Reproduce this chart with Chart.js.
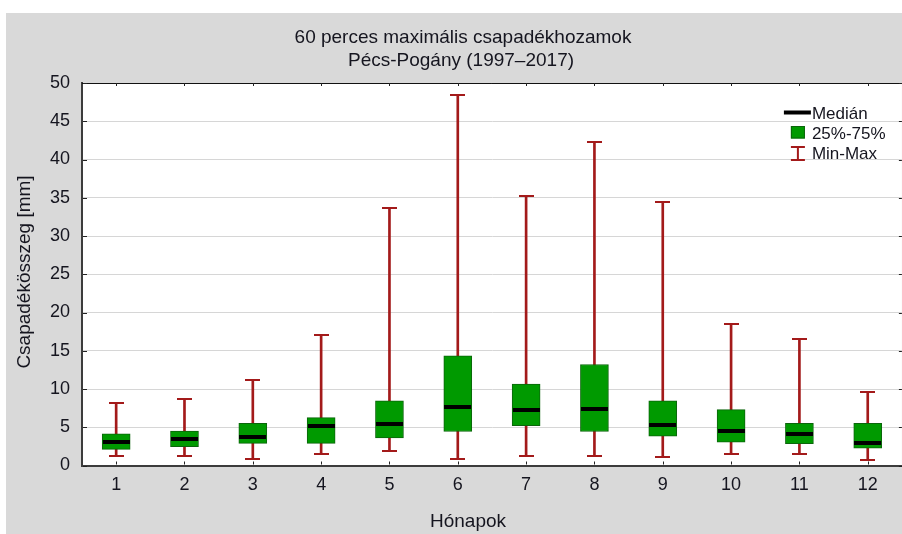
<!DOCTYPE html>
<html lang="hu">
<head>
<meta charset="utf-8">
<title>60 perces maximális csapadékhozamok – Pécs-Pogány</title>
<script src="https://cdn.jsdelivr.net/npm/chart.js@4.4.1/dist/chart.umd.min.js"></script>
<style>
  html, body { margin: 0; padding: 0; overflow: hidden; background: #ffffff; }
  canvas { display: block; }
</style>
</head>
<body>
<canvas id="chart" width="902" height="534"></canvas>
<script>
// Monthly 60-minute maximum precipitation, Pécs-Pogány 1997–2017 (mm)
const months   = ['1', '2', '3', '4', '5', '6', '7', '8', '9', '10', '11', '12'];
const minVals  = [1.3, 1.3, 0.9, 1.5, 1.9, 0.9, 1.3, 1.3, 1.1, 1.5, 1.5, 0.7];
const q1Vals   = [2.1, 2.45, 2.9, 2.9, 3.6, 4.45, 5.2, 4.45, 3.85, 3.05, 2.85, 2.25];
const medVals  = [3.1, 3.5, 3.7, 5.1, 5.45, 7.65, 7.25, 7.4, 5.3, 4.45, 4.1, 2.95];
const q3Vals   = [4.15, 4.5, 5.5, 6.25, 8.45, 14.35, 10.65, 13.2, 8.45, 7.3, 5.5, 5.5];
const maxVals  = [8.2, 8.65, 11.2, 17.05, 33.7, 48.4, 35.2, 42.3, 34.4, 18.5, 16.5, 9.6];
const yTicks   = [0, 5, 10, 15, 20, 25, 30, 35, 40, 45, 50];

const titleLines = ['60 perces maximális csapadékhozamok', 'Pécs-Pogány (1997–2017)'];
const yTitle = 'Csapadékösszeg [mm]';
const xTitle = 'Hónapok';
const legendItems = ['Medián', '25%-75%', 'Min-Max'];

const FONT = '"Liberation Sans", Arial, sans-serif';
const TEXT = '#15151f';
const GREEN = '#009a00';
const GREEN_EDGE = '#0b650b';
const RED = '#a31a1a';

// Small bitmaps used as point styles: median bar and whisker cap
function barGlyph(w, h, color) {
  const c = document.createElement('canvas');
  c.width = w; c.height = h;
  const g = c.getContext('2d');
  g.fillStyle = color;
  g.fillRect(0, 0, w, h);
  return c;
}
const medianGlyph = barGlyph(27, 4, '#000000');
const capGlyph = barGlyph(15, 2, RED);

// Panel background, plot frame, titles, inward ticks and legend
const decor = {
  id: 'decor',
  beforeDraw(chart) {
    const { ctx, width, height, chartArea: a } = chart;
    ctx.save();
    ctx.fillStyle = '#ffffff';
    ctx.fillRect(0, 0, width, height);
    ctx.fillStyle = '#d9d9d9';
    ctx.fillRect(6, 13, width - 6, height - 13);
    ctx.fillStyle = '#ffffff';
    ctx.fillRect(a.left, a.top, a.right - a.left, a.bottom - a.top);
    ctx.restore();
  },
  afterDraw(chart) {
    const { ctx, chartArea: a, scales } = chart;
    const xs = scales.x, ys = scales.y;
    ctx.save();

    // top frame line
    ctx.strokeStyle = '#111111';
    ctx.lineWidth = 1;
    ctx.beginPath();
    ctx.moveTo(a.left, a.top + 0.5);
    ctx.lineTo(a.right, a.top + 0.5);
    ctx.stroke();

    // inward tick marks
    ctx.strokeStyle = '#222222';
    ctx.beginPath();
    xs.ticks.forEach((t, i) => {
      const px = Math.round(xs.getPixelForTick(i)) + 0.5;
      ctx.moveTo(px, a.bottom - 1); ctx.lineTo(px, a.bottom - 4);
      ctx.moveTo(px, a.top); ctx.lineTo(px, a.top + 3);
    });
    ys.ticks.forEach((t, i) => {
      const py = Math.round(ys.getPixelForTick(i)) + 0.5;
      ctx.moveTo(a.left + 1, py); ctx.lineTo(a.left + 5, py);
      ctx.moveTo(a.right, py); ctx.lineTo(a.right - 3, py);
    });
    ctx.stroke();

    // chart title
    ctx.fillStyle = TEXT;
    ctx.font = '19px ' + FONT;
    ctx.textAlign = 'center';
    ctx.textBaseline = 'alphabetic';
    ctx.fillText(titleLines[0], 463, 43);
    ctx.fillText(titleLines[1], 461, 65.5);

    // axis titles
    ctx.fillText(xTitle, 468, 527);
    ctx.save();
    ctx.translate(29.5, 272);
    ctx.rotate(-Math.PI / 2);
    ctx.fillText(yTitle, 0, 0);
    ctx.restore();

    // legend
    const lx = a.right - 118;
    ctx.font = '17px ' + FONT;
    ctx.textAlign = 'left';
    ctx.fillStyle = '#000000';
    ctx.fillRect(lx, 110.5, 27, 4);
    ctx.fillStyle = GREEN;
    ctx.fillRect(lx + 7, 126, 14, 12.5);
    ctx.strokeStyle = GREEN_EDGE;
    ctx.lineWidth = 1;
    ctx.strokeRect(lx + 7.5, 126.5, 13, 11.5);
    ctx.strokeStyle = RED;
    ctx.lineWidth = 2;
    ctx.beginPath();
    ctx.moveTo(lx + 14, 147); ctx.lineTo(lx + 14, 160);
    ctx.moveTo(lx + 7, 147); ctx.lineTo(lx + 21, 147);
    ctx.moveTo(lx + 7, 160); ctx.lineTo(lx + 21, 160);
    ctx.stroke();
    ctx.fillStyle = TEXT;
    ctx.fillText(legendItems[0], lx + 28, 118.5);
    ctx.fillText(legendItems[1], lx + 28, 138.5);
    ctx.fillText(legendItems[2], lx + 28, 158.5);

    ctx.restore();
  }
};

const markerDataset = (label, data, glyph, order) => ({
  type: 'line',
  label,
  data,
  showLine: false,
  pointStyle: glyph,
  pointRadius: 0.1,
  pointHoverRadius: 0.1,
  pointBorderWidth: 0,
  order
});

new Chart(document.getElementById('chart'), {
  type: 'bar',
  data: {
    labels: months,
    datasets: [
      {
        label: 'Min-Max',
        data: minVals.map((v, i) => [v, maxVals[i]]),
        backgroundColor: RED,
        borderWidth: 0,
        grouped: false,
        barPercentage: 1,
        categoryPercentage: 1,
        maxBarThickness: 2,
        order: 4
      },
      {
        label: '25%-75%',
        data: q1Vals.map((v, i) => [v, q3Vals[i]]),
        backgroundColor: GREEN,
        borderColor: GREEN_EDGE,
        borderWidth: 1,
        borderSkipped: false,
        grouped: false,
        barPercentage: 1,
        categoryPercentage: 1,
        maxBarThickness: 28,
        order: 3
      },
      markerDataset('Max', maxVals, capGlyph, 2),
      markerDataset('Min', minVals, capGlyph, 2),
      markerDataset('Medián', medVals, medianGlyph, 1)
    ]
  },
  options: {
    responsive: false,
    animation: false,
    events: [],
    devicePixelRatio: 1,
    layout: { padding: { left: 0, top: 83, right: 0, bottom: 0 } },
    plugins: {
      legend: { display: false },
      title: { display: false },
      tooltip: { enabled: false }
    },
    scales: {
      x: {
        type: 'category',
        offset: true,
        grid: { display: false, drawTicks: false },
        border: { display: true, color: '#3c3c3c', width: 2 },
        ticks: {
          color: TEXT,
          font: { family: FONT, size: 18 },
          padding: 9,
          maxRotation: 0,
          autoSkip: false
        },
        afterFit(scale) {
          scale.height = 68.5;
          scale.paddingLeft = 0;
          scale.paddingRight = 0;
        }
      },
      y: {
        min: 0,
        max: 50,
        afterBuildTicks(scale) { scale.ticks = yTicks.map(v => ({ value: v })); },
        grid: {
          drawTicks: false,
          lineWidth: 1,
          color: (c) => (c.tick && c.tick.value === 50) ? 'rgba(0,0,0,0)' : '#d6d6d6'
        },
        border: { display: true, color: '#3c3c3c', width: 2 },
        ticks: {
          color: TEXT,
          font: { family: FONT, size: 18 },
          padding: 12,
          autoSkip: false
        },
        afterFit(scale) {
          scale.width = 82;
          scale.paddingTop = 0;
          scale.paddingBottom = 0;
        }
      }
    }
  },
  plugins: [decor]
});
</script>
</body>
</html>
